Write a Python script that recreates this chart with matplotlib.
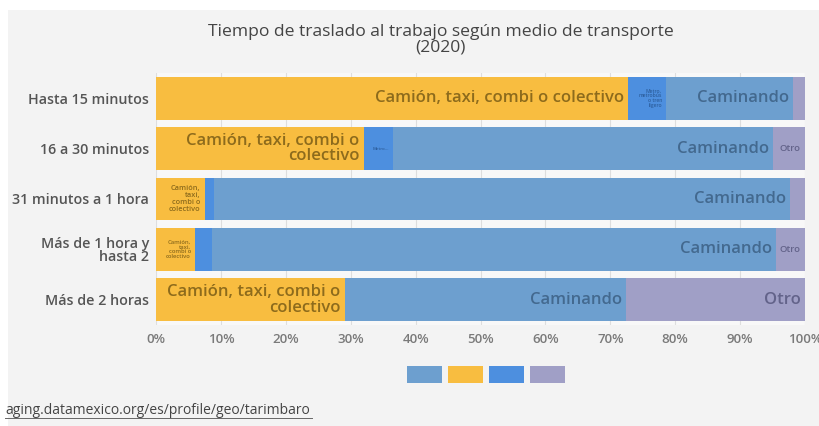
import numpy as np
import matplotlib.pyplot as plt
from matplotlib.patches import Patch, Rectangle

plt.rcParams['font.family'] = ['Open Sans', 'DejaVu Sans']

categories = ["Hasta 15 minutos", "16 a 30 minutos", "31 minutos a 1 hora",
              "Más de 1 hora y\nhasta 2", "Más de 2 horas"]

# percentages, stacked left to right
camion = [72.7, 32.0, 7.5, 6.0, 29.1]
metro = [5.9, 4.5, 1.4, 2.6, 0.0]
caminando = [19.6, 58.6, 88.8, 86.9, 43.3]
otro = [1.8, 4.9, 2.3, 4.5, 27.6]

series_names = ["Camión, taxi, combi o colectivo", "Metro, metrobús o tren ligero",
                "Caminando", "Otro"]
xticks = [0, 10, 20, 30, 40, 50, 60, 70, 80, 90, 100]

C_CAM = "#6d9fcf"
C_BUS = "#f8bd40"
C_MET = "#4d8fdf"
C_OTR = "#a09fc6"
BG = "#f3f3f3"


def label_for(series, w):
    # text and font size for a segment, based on its width
    if series == 0:
        if w > 50:
            return "Camión, taxi, combi o colectivo", 12
        if w > 20:
            return "Camión, taxi, combi o\ncolectivo", 12
        if w > 7:
            return "Camión,\ntaxi,\ncombi o\ncolectivo", 5.3
        return "Camión,\ntaxi,\ncombi o\ncolectivo", 4.2
    if series == 1:
        if w > 5:
            return "Metro,\nmetrobús\no tren\nligero", 3.6
        if w > 4:
            return "Metro...", 3.2
        return None, 0
    if series == 2:
        return "Caminando", 12
    if w > 20:
        return "Otro", 12
    if w > 4:
        return "Otro", 6.8
    return None, 0


fig = plt.figure(figsize=(8.19, 4.26), dpi=100)
fig.patch.set_facecolor("white")
fig.patches.append(Rectangle((8 / 819, 0), 1, 1 - 10 / 426, transform=fig.transFigure,
                             facecolor=BG, edgecolor="none", zorder=-10))

ax = fig.add_axes([156 / 819, 1 - 325 / 426, 649 / 819, 252 / 426])
ax.set_facecolor("#f8f8f8")

y = np.arange(len(categories))
colors = [C_BUS, C_MET, C_CAM, C_OTR]
txt_colors = ["#8d6b1c", "#2d5f9e", "#43698f", "#63638a"]
left = np.zeros(len(categories))
for s, vals in enumerate([camion, metro, caminando, otro]):
    vals = np.array(vals)
    ax.barh(y, vals, left=left, height=0.85, color=colors[s], edgecolor="none", zorder=3)
    for i in range(len(categories)):
        if vals[i] <= 0:
            continue
        txt, fs = label_for(s, vals[i])
        if txt is None:
            continue
        ax.annotate(txt, (left[i] + vals[i], y[i]), xytext=(-3, 0),
                    textcoords="offset points", ha="right", va="center",
                    fontsize=fs, color=txt_colors[s], zorder=4, linespacing=0.95,
                    multialignment="right", fontweight="semibold")
    left += vals

ax.set_xlim(0, 100)
ax.set_ylim(len(categories) - 0.5, -0.5)
ax.set_yticks(y)
ax.set_yticklabels(categories, fontsize=10.3, color="#555555", linespacing=0.95,
                   fontweight="semibold")
ax.set_xticks(xticks)
ax.set_xticklabels([f"{t}%" for t in xticks], fontsize=9.5, color="#7a7a7a",
                   fontweight="semibold")
ax.tick_params(axis="both", length=0, pad=5)
ax.tick_params(axis="x", pad=6)
ax.grid(axis="x", color="#dedede", linewidth=0.8, zorder=0)
for sp in ax.spines.values():
    sp.set_visible(False)

fig.text(0.538, 1 - 40 / 426, "Tiempo de traslado al trabajo según medio de transporte\n(2020)",
         ha="center", va="center", fontsize=12.6, color="#444444", linespacing=0.92)

handles = [Patch(facecolor=c, edgecolor="none") for c in [C_CAM, C_BUS, C_MET, C_OTR]]
fig.legend(handles, ["", "", "", ""], loc="center", bbox_to_anchor=(486 / 819, 1 - 375 / 426),
           ncol=4, frameon=False, handlelength=2.5, handleheight=1.5, handletextpad=0,
           columnspacing=0.45, fontsize=10, borderpad=0)

fig.text(5 / 819, 1 - 411 / 426, "aging.datamexico.org/es/profile/geo/tarimbaro",
         ha="left", va="center", fontsize=10, color="#444444")
fig.lines.append(plt.Line2D([5 / 819, 312 / 819], [1 - 418 / 426, 1 - 418 / 426],
                            transform=fig.transFigure, color="#666666", linewidth=0.7))

fig.savefig("out.png", dpi=100, facecolor=fig.get_facecolor())
